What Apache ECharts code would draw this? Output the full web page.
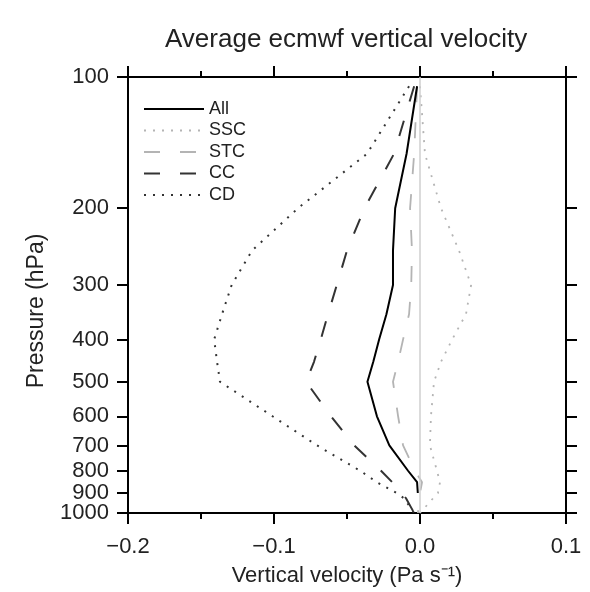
<!DOCTYPE html>
<html><head><meta charset="utf-8">
<script src="https://cdn.jsdelivr.net/npm/echarts@6/dist/echarts.min.js"></script>
<style>html,body{margin:0;padding:0;background:#fff}#c{width:590px;height:592px}</style>
</head><body><div id="c"></div>
<script>
// Pressure levels (hPa) and average vertical velocity (Pa s^-1) per regime
const pressureLevels = [105, 150, 200, 250, 300, 350, 400, 450, 500, 600, 700, 800, 850, 900, 925, 1000];
const allVel = [-0.002, -0.0092, -0.017, -0.0185, -0.0185, -0.023, -0.028, -0.032, -0.036, -0.0295, -0.021, -0.0082, -0.002, -0.0015, null, null];
const sscVel = [0.0, 0.0034, 0.0144, 0.0267, 0.035, 0.0315, 0.022, 0.0144, 0.0096, 0.0075, 0.0068, 0.0116, 0.0137, 0.0123, 0.009, 0.0];
const stcVel = [-0.002, -0.004, -0.0068, -0.0055, -0.006, -0.0075, -0.0116, -0.015, -0.0185, -0.015, -0.0116, -0.0034, 0.0014, 0.0, -0.0007, -0.0014];
const ccVel = [-0.004, -0.0178, -0.038, -0.050, -0.057, -0.063, -0.068, -0.0726, -0.078, -0.061, -0.045, -0.0267, -0.019, -0.0123, -0.0096, -0.004];
const cdVel = [-0.0075, -0.0363, -0.0836, -0.115, -0.129, -0.1356, -0.141, -0.139, -0.137, -0.101, -0.0705, -0.041, -0.0295, -0.016, -0.011, -0.004];
const seriesNames = ['All', 'SSC', 'STC', 'CC', 'CD'];
const pressureTicks = [100, 200, 300, 400, 500, 600, 700, 800, 900, 1000];

const FONT = 'Liberation Sans';
// keep the top/bottom tick values just inside the log extent (float rounding)
const tickVals = pressureTicks.map(v => Math.min(Math.max(v, 100.0001), 999.999));
// labels split over two co-located left axes so the tightly packed bottom labels are not auto-hidden
const labelsA = tickVals.filter((v, i) => i % 2 === 0);
const labelsB = tickVals.filter((v, i) => i % 2 === 1);
function pairs(vals) {
  const out = [];
  vals.forEach((v, i) => { if (v !== null) out.push([v, pressureLevels[i]]); });
  return out;
}
function fmtX(v) {
  const s = Math.abs(v).toFixed(1);
  return v < -1e-9 ? '\u2212' + s : s;
}

const xCommon = {
  type: 'value', min: -0.2, max: 0.1, interval: 0.1,
  splitLine: { show: false },
  axisLine: { show: true, lineStyle: { color: '#000', width: 2 } },
  axisTick: { show: true, length: 11, lineStyle: { color: '#000', width: 2 } },
  minorTick: { show: true, splitNumber: 2, length: 6, lineStyle: { color: '#000', width: 2 } }
};
const yBase = {
  type: 'log', logBase: 10, min: 100, max: 1000, inverse: true,
  splitLine: { show: false }, minorTick: { show: false }
};
const yLineTick = {
  axisLine: { show: true, onZero: false, lineStyle: { color: '#000', width: 2 } },
  axisTick: { show: true, length: 11, customValues: tickVals, lineStyle: { color: '#000', width: 2 } }
};
const yLabel = vals => ({
  show: true, margin: 19, customValues: vals, fontFamily: FONT, fontSize: 22,
  color: '#222', formatter: v => String(Math.round(v)), showMinLabel: true, showMaxLabel: true
});

const option = {
  animation: false,
  backgroundColor: '#fff',
  title: {
    text: 'Average ecmwf vertical velocity',
    left: 160, top: 22,
    textStyle: { fontFamily: FONT, fontSize: 26, fontWeight: 'normal', color: '#222' }
  },
  legend: {
    orient: 'vertical', left: 138, top: 95,
    itemWidth: 60, itemHeight: 14, itemGap: 3.5,
    data: seriesNames,
    itemStyle: { color: 'rgba(0,0,0,0)', borderColor: 'rgba(0,0,0,0)', borderWidth: 0, opacity: 0 },
    textStyle: { fontFamily: FONT, fontSize: 18, color: '#222', lineHeight: 18 }
  },
  grid: { left: 128, right: 24, top: 77, bottom: 79, containLabel: false },
  xAxis: [
    Object.assign({}, xCommon, {
      position: 'bottom',
      name: 'Vertical velocity (Pa s\u207B\u00B9)',
      nameLocation: 'middle', nameGap: 52,
      nameTextStyle: { fontFamily: FONT, fontSize: 22, color: '#222' },
      axisLabel: { show: true, margin: 23, fontFamily: FONT, fontSize: 22, color: '#222', formatter: fmtX, showMinLabel: true, showMaxLabel: true }
    }),
    Object.assign({}, xCommon, { position: 'top', axisLabel: { show: false } })
  ],
  yAxis: [
    Object.assign({}, yBase, yLineTick, {
      position: 'left',
      name: 'Pressure (hPa)', nameLocation: 'middle', nameGap: 80,
      nameTextStyle: { fontFamily: FONT, fontSize: 23, color: '#222', padding: [0, 32, 0, 0] },
      axisLabel: yLabel(labelsA)
    }),
    Object.assign({}, yBase, yLineTick, { position: 'right', axisLabel: { show: false } }),
    Object.assign({}, yBase, {
      position: 'left', offset: 0,
      axisLine: { show: false }, axisTick: { show: false },
      axisLabel: yLabel(labelsB)
    })
  ],
  series: [
    {
      name: 'All', type: 'line', data: pairs(allVel), symbol: 'none', z: 5,
      lineStyle: { color: '#000', width: 2, type: 'solid' },
      itemStyle: { color: '#000' },
      markLine: {
        silent: true, symbol: 'none', label: { show: false },
        lineStyle: { color: '#cfcfcf', width: 1.5, type: 'solid' },
        data: [{ xAxis: 0 }]
      }
    },
    {
      name: 'SSC', type: 'line', data: pairs(sscVel), symbol: 'none',
      lineStyle: { color: '#b4b4b4', width: 1.8, type: [2, 7] },
      itemStyle: { color: '#b4b4b4' }
    },
    {
      name: 'STC', type: 'line', data: pairs(stcVel), symbol: 'none',
      lineStyle: { color: '#b4b4b4', width: 1.8, type: [16, 20] },
      itemStyle: { color: '#b4b4b4' }
    },
    {
      name: 'CC', type: 'line', data: pairs(ccVel), symbol: 'none',
      lineStyle: { color: '#333', width: 2, type: [16, 20] },
      itemStyle: { color: '#333' }
    },
    {
      name: 'CD', type: 'line', data: pairs(cdVel), symbol: 'none',
      lineStyle: { color: '#333', width: 2, type: [2, 7] },
      itemStyle: { color: '#333' }
    }
  ]
};
const chart = echarts.init(document.getElementById('c'), null, { renderer: 'canvas' });
chart.setOption(option);
</script>
</body></html>
